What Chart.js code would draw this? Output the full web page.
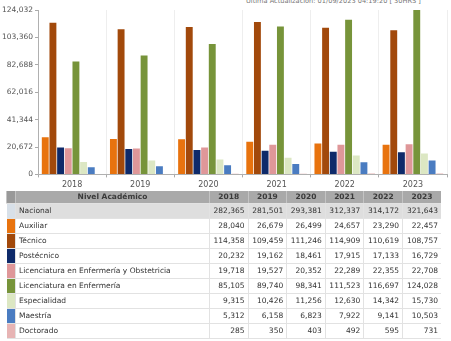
<!DOCTYPE html>
<html>
<head>
<meta charset="utf-8">
<script src="https://cdn.jsdelivr.net/npm/chart.js@4/dist/chart.umd.min.js"></script>
<style>
  body { margin: 0; background: #fff; font-family: "DejaVu Sans", sans-serif; width: 451px; height: 341px; overflow: hidden; position: relative; }
  #updated { position: absolute; top: -3px; left: 246px; font-size: 6.6px; line-height: 8px; color: #777; white-space: nowrap; }
  #chart-box { position: absolute; top: 0; left: 0; width: 451px; height: 193px; }
  table { position: absolute; top: 191px; left: 6px; width: 435px; border-collapse: collapse; font-size: 7.5px; line-height: 10px; color: #333; table-layout: fixed; }
  td, th { padding: 0 3px; border-bottom: 1px solid #e2e2e2; border-left: 1px solid #e2e2e2; white-space: nowrap; overflow: hidden; }
  td { height: 14px; }
  th { height: 12px; background: #a9a9a9; color: #3a3a3a; font-weight: bold; border-left: 1px solid #c4c4c4; }
  th.sw { background: #999; }
  td.num { text-align: right; }
  th.yr { text-align: center; }
  td.sw { padding: 0; border-left: none; }
  tr.nac td { background: #dedede; }
</style>
</head>
<body>
<div id="updated">Última Actualización: 01/09/2023 04:19:20 [ 30HRS ]</div>
<div id="chart-box"><canvas id="chart"></canvas></div>
<table id="tbl"></table>
<script>
// años y series
const years = ["2018", "2019", "2020", "2021", "2022", "2023"];
const nacional = [282365, 281501, 293381, 312337, 314172, 321643];
const auxiliar = [28040, 26679, 26499, 24657, 23290, 22457];
const tecnico = [114358, 109459, 111246, 114909, 110619, 108757];
const postecnico = [20232, 19162, 18461, 17915, 17133, 16729];
const licObstetricia = [19718, 19527, 20352, 22289, 22355, 22708];
const licEnfermeria = [85105, 89740, 98341, 111523, 116697, 124028];
const especialidad = [9315, 10426, 11256, 12630, 14342, 15730];
const maestria = [5312, 6158, 6823, 7922, 9141, 10503];
const doctorado = [285, 350, 403, 492, 595, 731];
const yTicks = [0, 20672, 41344, 62016, 82688, 103360, 124032];

const series = [
  { name: "Auxiliar", data: auxiliar, color: "#e8730e" },
  { name: "Técnico", data: tecnico, color: "#a2490b" },
  { name: "Postécnico", data: postecnico, color: "#0e2a6a" },
  { name: "Licenciatura en Enfermería y Obstetricia", data: licObstetricia, color: "#df9799" },
  { name: "Licenciatura en Enfermería", data: licEnfermeria, color: "#77943a" },
  { name: "Especialidad", data: especialidad, color: "#dce7c3" },
  { name: "Maestría", data: maestria, color: "#4a7cc1" },
  { name: "Doctorado", data: doctorado, color: "#e7b4b4" }
];

const fmt = (v) => v.toLocaleString("en-US");

new Chart(document.getElementById("chart"), {
  type: "bar",
  data: {
    labels: years,
    datasets: series.map(s => ({
      label: s.name,
      data: s.data,
      backgroundColor: s.color
    }))
  },
  options: {
    responsive: true,
    maintainAspectRatio: false,
    animation: false,
    layout: { padding: { top: 10, right: 4, left: 0, bottom: 0 } },
    datasets: { bar: { categoryPercentage: 0.9, barPercentage: 0.9 } },
    plugins: { legend: { display: false }, tooltip: { enabled: false } },
    scales: {
      x: {
        grid: { color: "#eeeeee", offset: true, tickLength: 3, tickColor: "#aaa" },
        border: { color: "#b0b0b0" },
        ticks: { color: "#555", font: { family: "DejaVu Sans", size: 8 }, padding: 3 }
      },
      y: {
        min: 0,
        max: yTicks[yTicks.length - 1],
        afterBuildTicks: (axis) => { axis.ticks = yTicks.map(v => ({ value: v })); },
        grid: { drawOnChartArea: false, tickLength: 3, tickColor: "#aaa" },
        border: { color: "#b0b0b0" },
        ticks: { color: "#555", font: { family: "DejaVu Sans", size: 7.5 }, padding: 2, callback: (v) => fmt(v) }
      }
    }
  }
});

// tabla de datos
const tbl = document.getElementById("tbl");
let html = '<colgroup><col style="width:9px"><col style="width:194px">' +
  years.map(() => '<col style="width:38.6px">').join("") + '</colgroup>';
html += '<tr><th class="sw"></th><th>Nivel Académico</th>' + years.map(y => `<th class="yr">${y}</th>`).join("") + '</tr>';
html += '<tr class="nac"><td class="sw" style="background:#d8e0e8"></td><td>Nacional</td>' +
  nacional.map(v => `<td class="num">${fmt(v)}</td>`).join("") + '</tr>';
series.forEach(s => {
  html += `<tr><td class="sw" style="background:${s.color}"></td><td>${s.name}</td>` +
    s.data.map(v => `<td class="num">${fmt(v)}</td>`).join("") + '</tr>';
});
tbl.innerHTML = html;
</script>
</body>
</html>
